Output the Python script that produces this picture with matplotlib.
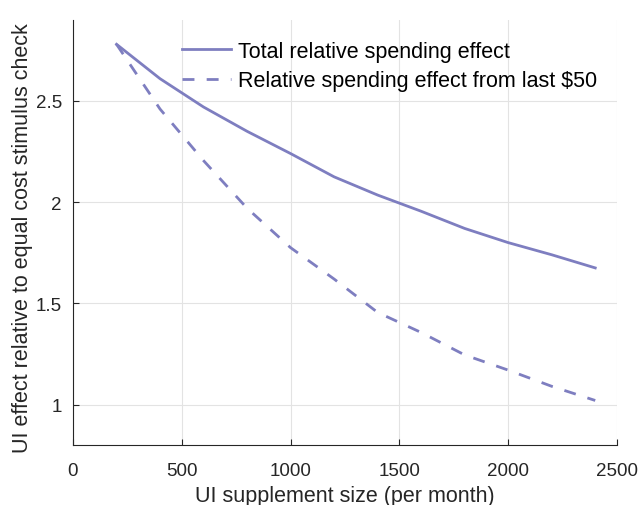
import numpy as np
import matplotlib
matplotlib.use("Agg")
import matplotlib.pyplot as plt

plt.rcParams['font.family'] = ['Liberation Sans', 'DejaVu Sans']

# UI supplement size (per month)
supplement = [200, 400, 600, 800, 1000, 1200, 1400, 1600, 1800, 2000, 2200, 2400]

# Relative spending effects
total_effect = [2.78, 2.61, 2.47, 2.35, 2.24, 2.125, 2.035, 1.955, 1.87, 1.80, 1.74, 1.675]
last50_effect = [2.78, 2.46, 2.205, 1.97, 1.775, 1.62, 1.455, 1.356, 1.245, 1.17, 1.09, 1.02]

xticks = [0, 500, 1000, 1500, 2000, 2500]
yticks = [1, 1.5, 2, 2.5]
ytick_labels = ["1", "1.5", "2", "2.5"]

color = "#7e7ec0"
dark = "#262626"

fig = plt.figure(figsize=(6.42, 5.06), dpi=100)
ax = fig.add_axes([73 / 642, 60 / 506, 544 / 642, 425 / 506])

ax.plot(supplement, total_effect, color=color, lw=2.0, label="Total relative spending effect")
ax.plot(supplement, last50_effect, color=color, lw=2.0, ls=(0, (4.3, 4.4)),
        label="Relative spending effect from last $50")

ax.set_xlim(0, 2500)
ax.set_ylim(0.8, 2.9)
ax.set_xticks(xticks)
ax.set_yticks(yticks)
ax.set_yticklabels(ytick_labels)
ax.grid(True, color="#e3e3e3", lw=0.8)
ax.set_axisbelow(True)

for s in ["top", "right"]:
    ax.spines[s].set_visible(False)
for s in ["left", "bottom"]:
    ax.spines[s].set_color(dark)
    ax.spines[s].set_linewidth(0.8)
ax.tick_params(direction="in", length=4, width=0.8, colors=dark, labelsize=13.5)
ax.tick_params(axis="x", pad=12)
ax.tick_params(axis="y", pad=8)

ax.set_xlabel("UI supplement size (per month)", fontsize=15.5, color=dark)
ax.set_ylabel("UI effect relative to equal cost stimulus check", fontsize=15.5, color=dark)
ax.xaxis.set_label_coords(0.5, -40 / 425, transform=ax.transAxes)
ax.yaxis.set_label_coords(-40 / 544, 0.49, transform=ax.transAxes)

ax.legend(loc="upper left", bbox_to_anchor=(182 / 642, 1 - 42 / 506),
          bbox_transform=fig.transFigure, frameon=False, fontsize=15.5,
          handlelength=2.28, labelspacing=0.38, borderpad=0, borderaxespad=0,
          handletextpad=0.3)

fig.savefig("out.png", dpi=100)
